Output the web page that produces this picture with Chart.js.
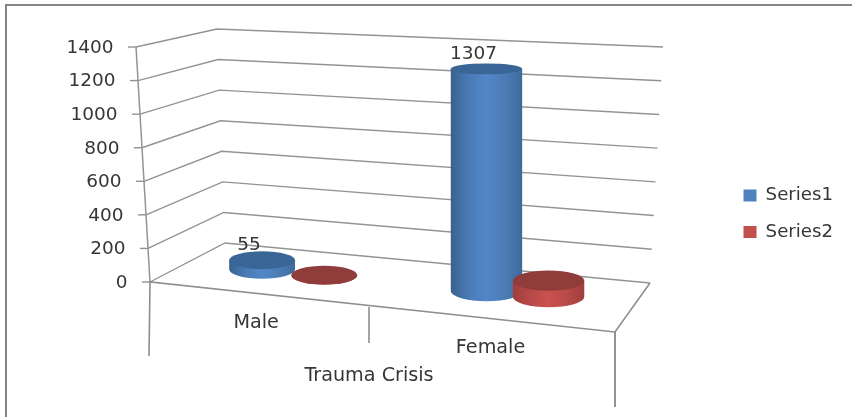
<!DOCTYPE html>
<html>
<head>
<meta charset="utf-8">
<style>
  html, body { margin: 0; padding: 0; background: #fff; }
  canvas { display: block; }
</style>
<script src="https://cdn.jsdelivr.net/npm/chart.js"></script>
</head>
<body>
<canvas id="chart" width="852" height="417"></canvas>
<script>
const categories = ["Male", "Female"];
const series1 = [55, 1307];
const series2 = [2, 95];
const dataLabels = [["55", "1307"], [null, null]];
const yTickLabels = ["0", "200", "400", "600", "800", "1000", "1200", "1400"];
const axisTitle = "Trauma Crisis";

const FONT = '18.5px "DejaVu Sans"';
const FONT_CAT = '19.2px "DejaVu Sans"';
const TEXT = "#363636";
const GRID = "#939393";
const FLOOR_SLOPE = 0.095;
const FLOOR_X0 = 393;
// bars further forward look wider and a touch taller
const depthScale = [1.06, 1.15];
const bodyColors = [
  ["#38628f", "#4a7ab5", "#5187c8", "#4c7cb6", "#3f6a9c"],
  ["#a03e3b", "#b8494a", "#cb524e", "#b84a47", "#a03f3c"],
];
const capColors = ["#3a6697", "#8f3c3a"];

function line(ctx, pts, width, color) {
  ctx.beginPath();
  pts.forEach((p, i) => (i ? ctx.lineTo(p[0], p[1]) : ctx.moveTo(p[0], p[1])));
  ctx.lineWidth = width;
  ctx.strokeStyle = color;
  ctx.stroke();
}

function ellipseRatio(y) {
  return 0.153 + (y - 68.5) * 0.00062;
}

const walls = {
  id: "walls",
  beforeDraw(chart) {
    const ctx = chart.ctx;
    const y = chart.scales.y;
    ctx.save();
    ctx.fillStyle = "#fff";
    ctx.fillRect(0, 0, chart.width, chart.height);
    // picture frame
    line(ctx, [[6, chart.height], [6, 5], [chart.width, 5]], 2, "#858585");

    const h = y.getPixelForValue(0) - y.getPixelForValue(1400);
    yTickLabels.forEach((label) => {
      const p = y.getPixelForValue(Number(label));
      const t = (y.getPixelForValue(0) - p) / h;
      const ax = 150 - 14 * t;
      line(ctx, [[ax, p], [225 - 8 * t, 243 - 214 * t], [650 + 13 * t, 283 - 236 * t]], 1.4, GRID);
      line(ctx, [[ax - 8, p], [ax, p]], 1.4, GRID);
      ctx.font = FONT;
      ctx.fillStyle = TEXT;
      ctx.textAlign = "right";
      ctx.textBaseline = "middle";
      ctx.fillText(label, ax - 22.5, p + 1);
    });
    // axis, floor and drop lines
    line(ctx, [[136, y.getPixelForValue(1400)], [150, y.getPixelForValue(0)]], 1.5, GRID);
    line(ctx, [[149, 356], [150, 282], [615, 332], [650, 283]], 1.6, "#8e8e8e");
    line(ctx, [[369, 307], [369, 343]], 1.6, "#8e8e8e");
    line(ctx, [[615, 332], [615, 407]], 1.7, "#808080");

    ctx.font = FONT_CAT;
    ctx.fillStyle = TEXT;
    ctx.textAlign = "center";
    const x = chart.scales.x;
    ctx.fillText(categories[0], x.getPixelForTick(0) - 37, 323);
    ctx.fillText(categories[1], x.getPixelForTick(1) - 27, 348);
    ctx.fillText(axisTitle, 369, 376);
    ctx.restore();
  },
  beforeDatasetDraw() {
    return false;
  },
  afterDatasetsDraw(chart) {
    const ctx = chart.ctx;
    chart.data.datasets.forEach((ds, i) => {
      chart.getDatasetMeta(i).data.forEach((bar, j) => {
        const offset = FLOOR_SLOPE * (bar.x - FLOOR_X0);
        const rx = (bar.width / 2) * depthScale[j];
        const bot = bar.base + offset;
        const top = bot - (bar.base - bar.y) * 1.012;
        const ryBot = rx * ellipseRatio(bot);
        const ryTop = rx * ellipseRatio(top);

        const grad = ctx.createLinearGradient(bar.x - rx, 0, bar.x + rx, 0);
        bodyColors[i].forEach((c, k) => grad.addColorStop(k / 4, c));
        ctx.beginPath();
        ctx.moveTo(bar.x - rx, top);
        ctx.lineTo(bar.x - rx, bot);
        ctx.ellipse(bar.x, bot, rx, ryBot, 0, Math.PI, 0, true);
        ctx.lineTo(bar.x + rx, top);
        ctx.closePath();
        ctx.fillStyle = grad;
        ctx.fill();

        ctx.beginPath();
        ctx.ellipse(bar.x, top, rx, ryTop, 0, 0, Math.PI * 2);
        ctx.fillStyle = capColors[i];
        ctx.fill();

        const label = dataLabels[i][j];
        if (label) {
          ctx.font = FONT;
          ctx.fillStyle = TEXT;
          ctx.textAlign = "center";
          ctx.textBaseline = "middle";
          ctx.fillText(label, bar.x - 13, top - 15);
        }
      });
    });
  },
  afterUpdate(chart) {
    // legend sits well right of the plot, move it out there
    const legend = chart.legend;
    const first = legend.legendHitBoxes[0];
    const dx = 743.5 - first.left;
    const dy = 195.5 - (first.top + first.height / 2);
    legend.left += dx;
    legend.right += dx;
    legend.top += dy;
    legend.bottom += dy;
    legend.legendHitBoxes.forEach((b) => {
      b.left += dx;
      b.top += dy;
    });
  },
};

new Chart(document.getElementById("chart"), {
  type: "bar",
  data: {
    labels: categories,
    datasets: [
      { label: "Series1", data: series1, backgroundColor: "#4f81bd" },
      { label: "Series2", data: series2, backgroundColor: "#c0504d" },
    ],
  },
  options: {
    responsive: false,
    animation: false,
    categoryPercentage: 0.5536,
    barPercentage: 1,
    layout: { padding: { left: 181, right: 104.4, top: 47, bottom: 135 } },
    scales: {
      x: { display: false },
      y: { display: false, min: 0, max: 1400 },
    },
    plugins: {
      tooltip: { enabled: false },
      legend: {
        position: "right",
        labels: {
          boxWidth: 13,
          boxHeight: 12,
          padding: 18.3,
          color: TEXT,
          font: { family: "DejaVu Sans", size: 18.2 },
        },
      },
    },
  },
  plugins: [walls],
});
</script>
</body>
</html>
